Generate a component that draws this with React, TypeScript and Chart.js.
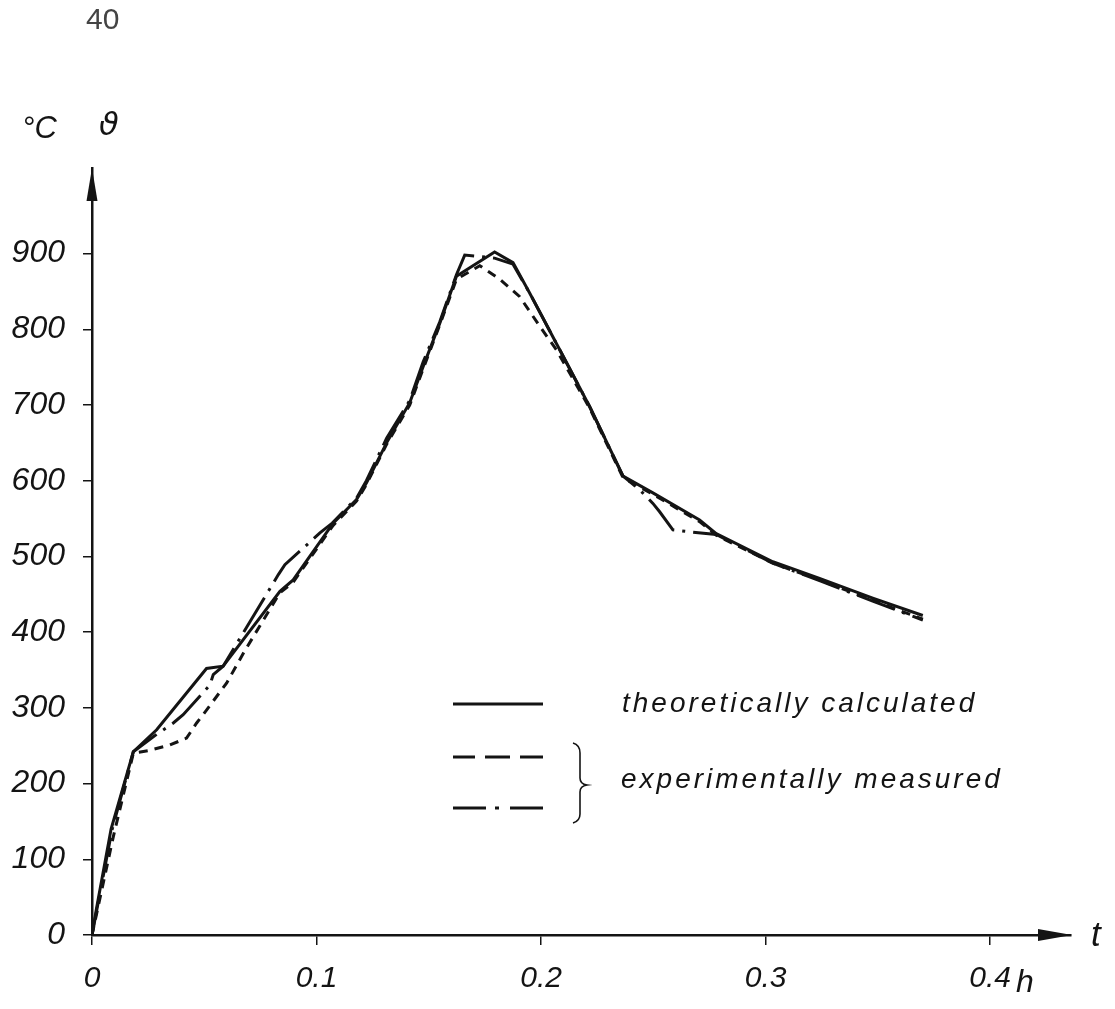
import React, { useEffect, useRef } from 'react';
import { Chart, registerables } from 'chart.js';

Chart.register(...registerables);

// ---------- data ----------
const X_TICKS = [0, 0.1, 0.2, 0.3, 0.4];
const X_TICK_LABELS = ['0', '0.1', '0.2', '0.3', '0.4'];
const Y_TICKS = [0, 100, 200, 300, 400, 500, 600, 700, 800, 900];
const Y_TICK_LABELS = ['0', '100', '200', '300', '400', '500', '600', '700', '800', '900'];

const X_NAME = 't';
const X_UNIT = 'h';
const Y_NAME = 'ϑ';
const Y_UNIT = '°C';
const PAGE_NUMBER = '40';
const LEGEND_THEORY = 'theoretically calculated';
const LEGEND_EXPERIMENT = 'experimentally measured';

// theoretically calculated (solid)
const theoT = [0, 0.002, 0.0085, 0.0184, 0.0288, 0.051, 0.0584, 0.0837, 0.0896, 0.1074, 0.1178, 0.1222, 0.1312, 0.1415, 0.1475, 0.1549, 0.1623, 0.1793, 0.1875, 0.1949, 0.2083, 0.2216, 0.2365, 0.2498, 0.2706, 0.278, 0.3032, 0.324, 0.3477, 0.37];
const theoV = [0, 35, 140, 242, 271, 352, 355, 454, 469, 544, 575, 597, 650, 703, 751, 808, 870, 902, 888, 848, 773, 698, 606, 584, 548, 530, 493, 471, 445, 422];

// experimentally measured (dashed)
const dashT = [0, 0.0095, 0.0184, 0.0258, 0.0347, 0.0421, 0.0466, 0.051, 0.06, 0.0674, 0.0763, 0.0837, 0.0896, 0.1074, 0.1178, 0.1222, 0.1312, 0.1415, 0.1475, 0.1549, 0.1623, 0.1727, 0.1816, 0.1905, 0.1994, 0.2068, 0.2216, 0.2365, 0.2498, 0.2706, 0.278, 0.3032, 0.324, 0.3477, 0.37];
const dashV = [0, 130, 240, 244, 251, 260, 280, 297, 333, 372, 416, 452, 466, 541, 573, 595, 648, 700, 748, 806, 866, 884, 866, 843, 804, 773, 696, 604, 582, 546, 528, 491, 469, 442, 417];

// experimentally measured (dash-dot)
const dotT = [0, 0.009, 0.0184, 0.0288, 0.0362, 0.0406, 0.0525, 0.054, 0.0584, 0.083, 0.0859, 0.1015, 0.107, 0.1178, 0.1222, 0.1312, 0.1415, 0.1475, 0.1549, 0.1623, 0.166, 0.1734, 0.1793, 0.1875, 0.1949, 0.2083, 0.2216, 0.2365, 0.2439, 0.2498, 0.2528, 0.2587, 0.2676, 0.278, 0.3032, 0.324, 0.3477, 0.37];
const dotV = [0, 140, 242, 265, 280, 291, 330, 344, 355, 476, 489, 531, 544, 577, 600, 656, 706, 757, 810, 872, 898, 896, 894, 886, 848, 773, 698, 606, 588, 570, 559, 535, 532, 529, 491, 468, 441, 416];

const X_MAX = 0.436;
const Y_MAX = 1013;

// ---------- styling ----------
const INK = '#141414';
const W = 1115;
const H = 1009;

function fontAvailable(name: string): boolean {
  const c = document.createElement('canvas').getContext('2d');
  if (!c) return false;
  const sample = 'abcdefghijklmnopqrstuvwxyz0123456789';
  for (const base of ['monospace', 'serif', 'sans-serif']) {
    c.font = `40px ${base}`;
    const w0 = c.measureText(sample).width;
    c.font = `40px '${name}', ${base}`;
    const w1 = c.measureText(sample).width;
    if (Math.abs(w0 - w1) > 0.5) return true;
  }
  return false;
}

const pts = (t: number[], v: number[]) => t.map((x, i) => ({ x, y: v[i] }));

export default function App() {
  const ref = useRef<HTMLCanvasElement | null>(null);

  useEffect(() => {
    const canvas = ref.current;
    if (!canvas) return;
    const narrow = fontAvailable('Liberation Sans Narrow');
    const numFam = narrow ? "'Liberation Sans Narrow', 'Liberation Sans', sans-serif" : "'Liberation Sans', Arial, sans-serif";
    const ySize = narrow ? 35 : 32;
    const xSize = narrow ? 32 : 30;

    const decor = {
      id: 'decor',
      afterDraw(chart: any) {
        const ctx: CanvasRenderingContext2D = chart.ctx;
        const { left, right, top, bottom } = chart.chartArea;
        ctx.save();
        ctx.fillStyle = INK;
        ctx.strokeStyle = INK;
        // y arrow
        ctx.beginPath();
        ctx.moveTo(left, top);
        ctx.lineTo(left - 5.5, top + 33);
        ctx.lineTo(left + 5.5, top + 33);
        ctx.closePath();
        ctx.fill();
        // x arrow
        ctx.beginPath();
        ctx.moveTo(right + 1, bottom);
        ctx.lineTo(right - 33, bottom - 6);
        ctx.lineTo(right - 33, bottom + 6);
        ctx.closePath();
        ctx.fill();

        // axis names / units
        ctx.textBaseline = 'middle';
        ctx.textAlign = 'left';
        ctx.font = `italic ${narrow ? 34 : 31}px ${numFam}`;
        ctx.fillText(Y_UNIT, 22, 129);
        ctx.font = "italic 32px 'DejaVu Sans', sans-serif";
        ctx.fillText(Y_NAME, 99, 127);
        ctx.font = "italic 35px 'Liberation Sans', sans-serif";
        ctx.fillText(X_NAME, 1091, 936);
        ctx.font = "italic 32px 'Liberation Sans', sans-serif";
        ctx.fillText(X_UNIT, 1016, 983);

        // page number
        ctx.fillStyle = '#444';
        ctx.font = `30px ${numFam}`;
        ctx.fillText(PAGE_NUMBER, 86, 21);
        ctx.fillStyle = INK;

        // legend samples
        const sample = (y: number, dash: number[]) => {
          ctx.beginPath();
          ctx.setLineDash(dash);
          ctx.lineWidth = 3.2;
          ctx.moveTo(453, y);
          ctx.lineTo(543, y);
          ctx.stroke();
        };
        sample(704, []);
        sample(757, [22, 10, 25, 10, 30]);
        sample(808, [33, 9, 4, 11, 40]);
        ctx.setLineDash([]);

        // brace
        ctx.lineWidth = 1.6;
        ctx.beginPath();
        ctx.moveTo(573, 743);
        ctx.quadraticCurveTo(580, 745, 580, 753);
        ctx.lineTo(580, 778);
        ctx.quadraticCurveTo(580, 784, 587, 785);
        ctx.quadraticCurveTo(580, 786, 580, 792);
        ctx.lineTo(580, 814);
        ctx.quadraticCurveTo(580, 821, 573, 823);
        ctx.stroke();

        // legend texts
        ctx.font = "italic 28px 'Liberation Sans', Arial, sans-serif";
        (ctx as any).letterSpacing = '3px';
        ctx.textBaseline = 'alphabetic';
        ctx.fillText(LEGEND_THEORY, 622, 712);
        ctx.fillText(LEGEND_EXPERIMENT, 621, 788);
        (ctx as any).letterSpacing = '0px';
        ctx.restore();
      },
    };

    const chart = new Chart(canvas, {
      type: 'line',
      data: {
        datasets: [
          {
            label: LEGEND_THEORY,
            data: pts(theoT, theoV),
            borderColor: INK,
            borderWidth: 3,
            pointRadius: 0,
            tension: 0,
          },
          {
            label: LEGEND_EXPERIMENT + ' (dashed)',
            data: pts(dashT, dashV),
            borderColor: INK,
            borderWidth: 3,
            borderDash: [9, 7],
            pointRadius: 0,
            tension: 0,
          },
          {
            label: LEGEND_EXPERIMENT + ' (dash-dot)',
            data: pts(dotT, dotV),
            borderColor: INK,
            borderWidth: 3,
            borderDash: [40, 8, 3, 8],
            pointRadius: 0,
            tension: 0,
          },
        ],
      },
      options: {
        animation: false,
        responsive: false,
        maintainAspectRatio: false,
        devicePixelRatio: 1,
        layout: { padding: { left: 0, right: 44, top: 168, bottom: 0 } },
        plugins: { legend: { display: false }, tooltip: { enabled: false } },
        scales: {
          x: {
            type: 'linear',
            min: 0,
            max: X_MAX,
            afterBuildTicks: (s: any) => {
              s.ticks = X_TICKS.map((v) => ({ value: v }));
            },
            afterFit: (s: any) => {
              s.height = H - 935;
            },
            ticks: {
              autoSkip: false,
              maxRotation: 0,
              padding: 16,
              color: INK,
              font: { family: numFam, size: xSize, style: 'italic' },
              callback: (_v: any, i: number) => X_TICK_LABELS[i],
            },
            grid: { drawOnChartArea: false, drawTicks: true, tickLength: 10, color: INK, lineWidth: 1.5 },
            border: { display: true, color: INK, width: 2.5 },
          },
          y: {
            type: 'linear',
            min: 0,
            max: Y_MAX,
            afterBuildTicks: (s: any) => {
              s.ticks = Y_TICKS.map((v) => ({ value: v }));
            },
            afterFit: (s: any) => {
              s.width = 92;
            },
            ticks: {
              autoSkip: false,
              padding: 18,
              color: INK,
              font: { family: numFam, size: ySize, style: 'italic' },
              callback: (_v: any, i: number) => Y_TICK_LABELS[i],
            },
            grid: { drawOnChartArea: false, drawTicks: true, tickLength: 9, color: INK, lineWidth: 1.5 },
            border: { display: true, color: INK, width: 2.5 },
          },
        },
      },
      plugins: [decor],
    } as any);

    return () => chart.destroy();
  }, []);

  return (
    <div style={{ position: 'absolute', left: 0, top: 0, width: W, height: H, background: '#fff' }}>
      <canvas ref={ref} width={W} height={H} style={{ width: W, height: H, display: 'block' }} />
    </div>
  );
}
